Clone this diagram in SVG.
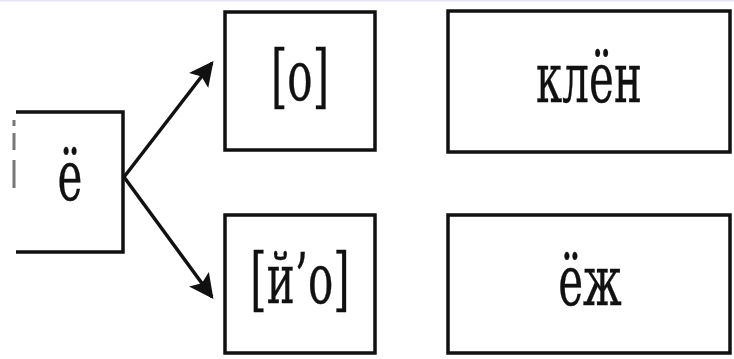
<svg xmlns="http://www.w3.org/2000/svg" width="734" height="359" viewBox="0 0 734 359">
<defs>
<style>
.box{fill:#fff;stroke:#111;stroke-width:3.5}
.ln{fill:none;stroke:#111;stroke-width:3.5}
.lbl{font-family:'DejaVu Serif',serif;font-size:70px;fill:#111;stroke:#111;stroke-width:0.4;text-anchor:middle}
.edge{fill:none;stroke:#111;stroke-width:3.5}
</style>
<marker id="ah" viewBox="0 0 10 10" refX="9" refY="5" markerWidth="7" markerHeight="7" markerUnits="strokeWidth" orient="auto">
<path d="M0,0 L10,5 L0,10 L2,5 Z" fill="#111"/>
</marker>
</defs>
<rect width="734" height="359" fill="#fff"/>
<line x1="0" y1="0.5" x2="734" y2="0.5" stroke="#e4e4f2" stroke-width="2"/>
<g id="node-e">
<path class="ln" d="M16,112 H123 V252 H16"/>
<path d="M14,120 V126 M14,133 V150 M14,160 V188" stroke="#777" stroke-width="3" fill="none"/>
<text class="lbl" transform="translate(70,200) scale(0.6,1)">ё</text>
</g>
<g id="node-o">
<rect class="box" x="225" y="12" width="150" height="138"/>
<text class="lbl" transform="translate(300,100) scale(0.6,1)">[о]</text>
</g>
<g id="node-jo">
<rect class="box" x="225" y="215" width="150" height="138"/>
<text class="lbl" transform="translate(300,303) scale(0.6,1)">[й’о]</text>
</g>
<g id="node-klen">
<rect class="box" x="448" y="11" width="282" height="141"/>
<text class="lbl" transform="translate(589,102) scale(0.6,1)">клён</text>
</g>
<g id="node-ezh">
<rect class="box" x="448" y="215" width="282" height="138"/>
<text class="lbl" transform="translate(590,305) scale(0.6,1)">ёж</text>
</g>
<g id="connectors">
<line class="edge" x1="124" y1="177" x2="212" y2="63" marker-end="url(#ah)"/>
<line class="edge" x1="124" y1="177" x2="212" y2="297" marker-end="url(#ah)"/>
</g>
</svg>
